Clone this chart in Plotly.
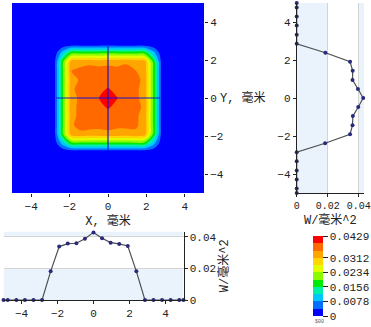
import plotly.graph_objects as go
import numpy as np

W, H = 371, 327

# grid positions (mm): cell centres plus the -5/+5 edges
pos = [-5.0, -4.762, -4.286, -3.810, -3.333, -2.857, -2.381, -1.905, -1.429, -0.952, -0.476,
       0.0, 0.476, 0.952, 1.429, 1.905, 2.381, 2.857, 3.333, 3.810, 4.286, 4.762, 5.0]

# profile along X at Y=0 (W/mm^2)
prof_x = [0, 0, 0, 0, 0, 0,
          0.0182, 0.0339, 0.0358, 0.0360, 0.0389, 0.0429, 0.0392, 0.0364, 0.0356, 0.0343, 0.0182,
          0, 0, 0, 0, 0, 0]
# profile along Y at X=0 (W/mm^2), Y ascending
prof_y = [0, 0, 0, 0, 0, 0,
          0.0183, 0.0344, 0.0360, 0.0362, 0.0397, 0.0429, 0.0395, 0.0360, 0.0361, 0.0344, 0.0185,
          0, 0, 0, 0, 0, 0]

# non-zero core of the 2-D power density map (rows: Y from -2.38 to 2.38, cols: X from -2.38 to 2.38)
core = [
    [0.0095, 0.0180, 0.0183, 0.0181, 0.0182, 0.0183, 0.0182, 0.0181, 0.0184, 0.0180, 0.0093],
    [0.0178, 0.0336, 0.0346, 0.0340, 0.0343, 0.0344, 0.0342, 0.0338, 0.0347, 0.0334, 0.0179],
    [0.0181, 0.0348, 0.0358, 0.0361, 0.0357, 0.0360, 0.0356, 0.0359, 0.0354, 0.0344, 0.0182],
    [0.0182, 0.0341, 0.0360, 0.0363, 0.0365, 0.0362, 0.0366, 0.0361, 0.0357, 0.0339, 0.0181],
    [0.0183, 0.0345, 0.0356, 0.0364, 0.0372, 0.0397, 0.0374, 0.0366, 0.0359, 0.0346, 0.0182],
    [0.0182, 0.0339, 0.0358, 0.0360, 0.0389, 0.0429, 0.0392, 0.0364, 0.0356, 0.0343, 0.0182],
    [0.0181, 0.0347, 0.0359, 0.0365, 0.0373, 0.0395, 0.0371, 0.0363, 0.0357, 0.0341, 0.0183],
    [0.0182, 0.0340, 0.0355, 0.0362, 0.0364, 0.0360, 0.0363, 0.0360, 0.0358, 0.0345, 0.0181],
    [0.0180, 0.0353, 0.0357, 0.0359, 0.0361, 0.0361, 0.0358, 0.0356, 0.0352, 0.0338, 0.0182],
    [0.0179, 0.0335, 0.0342, 0.0346, 0.0340, 0.0344, 0.0343, 0.0349, 0.0339, 0.0333, 0.0178],
    [0.0094, 0.0181, 0.0182, 0.0184, 0.0183, 0.0185, 0.0182, 0.0181, 0.0183, 0.0180, 0.0092],
]
Z = np.pad(np.array(core), 6).tolist()

# colour bar ticks
cb_ticks = [0, 0.0078, 0.0156, 0.0234, 0.0312, 0.0429]
cb_text = ["0", "0.0078", "0.0156", "0.0234", "0.0312", "0.0429"]
zmax = 0.0429
lvl = 0.0039

band_colors = ["rgb(0,0,255)", "rgb(0,110,255)", "rgb(0,200,255)", "rgb(0,240,170)",
               "rgb(0,235,0)", "rgb(140,250,0)", "rgb(225,255,0)", "rgb(255,215,0)",
               "rgb(255,165,0)", "rgb(255,105,0)", "rgb(255,0,0)"]
n = len(band_colors)
cscale = []
for i, c in enumerate(band_colors):
    cscale.append([i / n, c])
    cscale.append([(i + 1) / n, c])

cross_h_x = [-2.72, 2.72]
cross_h_y = [0, 0]
cross_v_x = [0, 0]
cross_v_y = [-2.72, 2.72]

axis_ticks = [-4, -2, 0, 2, 4]
w_ticks = [0, 0.02, 0.04]
w_text = ["0", "0.02", "0.04"]
w_max = 0.0434

FONT = "Liberation Mono, Noto Sans CJK SC"
TXT = "#222222"
BAND = "#EAF3FC"
GRID = "#D4D4D4"
MARK = "#2A2A7A"
LINE = "#505050"

fig = go.Figure()

fig.add_trace(go.Contour(
    x=pos, y=pos, z=Z, xaxis="x", yaxis="y",
    zmin=0, zmax=zmax, colorscale=cscale,
    contours=dict(start=lvl, end=zmax - lvl, size=lvl, coloring="fill", showlines=False),
    line=dict(width=0), line_smoothing=0.85,
    colorbar=dict(
        x=313 / W, xanchor="left", y=1 - 316 / H, yanchor="bottom",
        thickness=10, thicknessmode="pixels", len=80, lenmode="pixels",
        outlinewidth=0, ticks="outside", ticklen=5, tickcolor=TXT,
        tickmode="array", tickvals=cb_ticks, ticktext=cb_text,
        tickfont=dict(family=FONT, size=11, color=TXT), xpad=0, ypad=0,
    ),
    hoverinfo="skip",
))

for xs, ys in [(cross_h_x, cross_h_y), (cross_v_x, cross_v_y)]:
    fig.add_trace(go.Scatter(x=xs, y=ys, mode="lines", xaxis="x", yaxis="y",
                             line=dict(color="rgb(20,20,210)", width=1.2), showlegend=False))

# right profile (vs Y)
fig.add_trace(go.Scatter(x=prof_y, y=pos, mode="lines+markers", xaxis="x2", yaxis="y2",
                         line=dict(color=LINE, width=1.2),
                         marker=dict(color=MARK, size=4), showlegend=False, cliponaxis=False))
# bottom profile (vs X)
fig.add_trace(go.Scatter(x=pos, y=prof_x, mode="lines+markers", xaxis="x3", yaxis="y3",
                         line=dict(color=LINE, width=1.2),
                         marker=dict(color=MARK, size=4), showlegend=False, cliponaxis=False))

hm_y_dom = [1 - 193 / H, 1 - 3 / H]
tickfont = dict(family=FONT, size=11, color=TXT)
titlefont = dict(family=FONT, size=12, color=TXT)

shapes = [
    dict(type="rect", xref="x2", yref="y2", x0=w_ticks[0], x1=w_ticks[1], y0=-5, y1=5,
         fillcolor=BAND, line_width=0, layer="below"),
    dict(type="rect", xref="x2", yref="y2", x0=w_ticks[2], x1=w_max, y0=-5, y1=5,
         fillcolor=BAND, line_width=0, layer="below"),
    dict(type="rect", xref="x3", yref="y3", x0=-5, x1=5, y0=w_ticks[0], y1=w_ticks[1],
         fillcolor=BAND, line_width=0, layer="below"),
    dict(type="rect", xref="x3", yref="y3", x0=-5, x1=5, y0=w_ticks[2], y1=w_max,
         fillcolor=BAND, line_width=0, layer="below"),
]

fig.update_layout(
    width=W, height=H, margin=dict(l=0, r=0, t=0, b=0, autoexpand=False),
    paper_bgcolor="white", plot_bgcolor="white", showlegend=False,
    font=dict(family=FONT, size=11, color=TXT),
    shapes=shapes,
    xaxis=dict(domain=[12 / W, 204 / W], range=[-5, 5], anchor="y",
               tickvals=axis_ticks, ticks="outside", ticklen=3, tickcolor=TXT, tickangle=0,
               showgrid=False, zeroline=False, showline=False, tickfont=tickfont,
               title=dict(text="X, 毫米", font=titlefont, standoff=1)),
    yaxis=dict(domain=hm_y_dom, range=[-5, 5], anchor="x", side="right",
               tickvals=axis_ticks, ticks="outside", ticklen=3, tickcolor=TXT,
               showgrid=False, zeroline=False, showline=False, tickfont=tickfont),
    xaxis2=dict(domain=[296.7 / W, 364 / W], range=[0, w_max], anchor="y2",
                tickvals=w_ticks, ticktext=w_text, ticks="outside", ticklen=3, tickcolor=TXT,
                tickangle=0, ticklabeloverflow="allow",
                showgrid=True, gridcolor=GRID, zeroline=False,
                showline=True, linecolor=TXT, linewidth=1,
                tickfont=dict(family=FONT, size=10, color=TXT),
                title=dict(text="W/毫米^2", font=titlefont, standoff=1)),
    yaxis2=dict(domain=hm_y_dom, range=[-5, 5], anchor="x2", side="left",
                tickvals=axis_ticks, ticks="outside", ticklen=3, tickcolor=TXT,
                showgrid=False, zeroline=False, showline=True, linecolor=TXT, linewidth=1,
                tickfont=tickfont),
    xaxis3=dict(domain=[3.5 / W, 183.5 / W], range=[-5, 5], anchor="y3",
                tickvals=axis_ticks, ticks="outside", ticklen=3, tickcolor=TXT, tickangle=0,
                showgrid=False, zeroline=False, showline=True, linecolor=TXT, linewidth=1,
                tickfont=tickfont),
    yaxis3=dict(domain=[1 - 300 / H, 1 - 231.6 / H], range=[0, w_max], anchor="x3", side="right",
                tickvals=w_ticks, ticktext=w_text, ticks="outside", ticklen=3, tickcolor=TXT,
                showgrid=True, gridcolor=GRID, zeroline=False,
                showline=True, linecolor=TXT, linewidth=1, tickfont=tickfont,
                title=dict(text="W/毫米^2", font=titlefont, standoff=0)),
    annotations=[
        dict(text="Y, 毫米", x=218 / W, y=1 - 98 / H, xref="paper", yref="paper",
             xanchor="left", yanchor="middle", showarrow=False, font=titlefont),
        dict(text="$00", x=313 / W, y=1 - 322 / H, xref="paper", yref="paper",
             xanchor="left", yanchor="middle", showarrow=False,
             font=dict(family=FONT, size=5, color="#555555")),
    ],
)

fig.write_html("out.html", config={"displayModeBar": False},
               post_script="document.body.style.margin='0';document.body.style.padding='0';")
